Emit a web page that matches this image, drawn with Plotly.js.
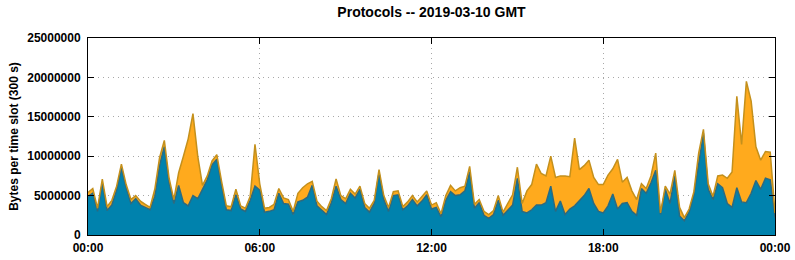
<!DOCTYPE html>
<html>
<head>
<meta charset="utf-8">
<script src="https://cdn.plot.ly/plotly-3.0.1.min.js"></script>
<style>html,body{margin:0;padding:0;background:#fff;}#chart{width:795px;height:260px;}</style>
</head>
<body>
<div id="chart"></div>
<script>
// Time slots: 10-minute steps from 00:00 to 24:00 (hours)
const slotMinutes = 10;
// Bytes per time slot, in millions
const blueSeriesM = [
4.9,5.3,3.0,6.6,3.1,3.8,5.7,8.5,6.0,4.0,
4.6,3.8,3.5,3.2,4.9,8.8,11.2,6.6,4.0,6.3,
4.1,3.7,5.0,4.6,5.8,7.0,8.9,9.6,6.3,3.2,
3.1,5.1,3.3,3.0,4.4,6.2,5.7,2.9,3.0,3.2,
5.3,4.0,3.9,2.6,4.2,4.4,4.8,6.3,3.7,3.2,
2.6,4.1,6.2,4.5,4.0,5.3,4.7,5.8,3.5,2.9,
4.0,7.9,4.5,3.0,5.0,5.1,3.2,3.7,4.5,3.7,
4.3,5.1,3.3,3.5,2.3,4.4,5.5,5.0,5.1,5.6,
8.0,3.4,4.1,2.5,2.1,2.6,4.4,2.5,3.1,3.8,
7.2,3.0,2.8,3.2,3.8,3.8,4.1,6.2,3.0,4.3,
2.6,3.3,3.7,4.3,5.0,5.9,4.0,3.0,2.8,3.7,
5.2,3.3,4.0,4.1,3.0,2.5,5.9,5.3,6.6,8.2,
2.6,5.8,4.0,7.5,2.4,1.8,2.9,5.1,9.0,12.9,
5.8,4.5,6.5,6.0,4.0,3.5,6.0,4.2,4.1,5.3,
6.9,5.8,7.2,7.0,2.2
];
const orangeSeriesM = [
0.5,0.6,0.4,0.5,0.5,0.6,0.5,0.5,0.4,0.5,
0.4,0.5,0.4,0.3,0.9,1.0,0.8,0.6,0.5,1.6,
5.9,8.5,10.4,5.4,0.5,0.5,0.5,0.6,0.5,0.5,
0.5,0.7,0.4,0.4,0.5,5.3,0.8,0.5,0.5,0.7,
0.6,0.7,0.6,0.4,1.1,1.6,1.7,0.5,0.6,0.4,
0.5,0.5,0.9,0.5,0.6,0.5,0.5,0.4,0.5,0.5,
0.4,0.4,0.5,0.5,0.5,0.5,0.4,0.5,0.5,0.5,
0.6,0.5,0.5,0.6,0.4,0.6,0.8,0.6,0.9,0.6,
0.7,0.5,0.4,0.5,0.5,0.5,0.6,0.4,0.9,1.3,
1.4,1.0,2.8,3.2,5.2,4.0,3.4,3.8,4.3,3.2,
4.9,4.1,8.6,4.0,3.8,3.6,3.3,3.4,3.6,3.9,
3.2,6.3,2.7,3.2,2.6,2.0,0.6,0.6,0.9,2.2,
0.2,0.4,1.2,0.7,1.1,0.4,0.4,0.4,1.4,0.5,
0.7,0.4,1.0,1.6,3.2,4.5,11.6,7.3,15.4,11.7,
4.3,3.7,3.4,3.5,0.6
];
const xTickVals = [0, 6, 12, 18, 24];
const xTickText = ['00:00', '06:00', '12:00', '18:00', '00:00'];
const yTickVals = [0, 5000000, 10000000, 15000000, 20000000, 25000000];

const hours = blueSeriesM.map((_, i) => i * slotMinutes / 60);
const blue = blueSeriesM.map(v => v * 1e6);
const orange = orangeSeriesM.map(v => v * 1e6);

const FONT = 'Liberation Sans, Arial, Helvetica, sans-serif';

const traces = [
  {x: hours, y: blue, type: 'scatter', mode: 'lines', stackgroup: 'one',
   line: {color: '#2b6a80', width: 1.5}, fillcolor: '#0082ad', hoverinfo: 'skip', showlegend: false},
  {x: hours, y: orange, type: 'scatter', mode: 'lines', stackgroup: 'one',
   line: {color: '#c4901c', width: 1.5}, fillcolor: '#ffaa1d', hoverinfo: 'skip', showlegend: false}
];

const axisCommon = {
  showline: true, linecolor: '#000', linewidth: 1, mirror: 'ticks',
  ticks: 'inside', ticklen: 6, tickwidth: 1, tickcolor: '#000',
  showgrid: true, gridcolor: '#a8a8a8', griddash: '1px,4px', gridwidth: 1,
  zeroline: false,
  tickfont: {family: FONT, size: 12, color: '#000', weight: 'bold'}
};

const layout = {
  width: 795, height: 260,
  margin: {l: 88, r: 20, t: 38, b: 25, pad: 0},
  paper_bgcolor: '#fff', plot_bgcolor: '#fff',
  title: {text: 'Protocols -- 2019-03-10 GMT', xref: 'paper', x: 0.5, xanchor: 'center',
          yref: 'container', y: 0.955, yanchor: 'middle',
          font: {family: FONT, size: 14, color: '#000', weight: 'bold'}},
  xaxis: Object.assign({}, axisCommon, {
    range: [0, 24], tickmode: 'array', tickvals: xTickVals, ticktext: xTickText,
    ticklabelstandoff: 2
  }),
  yaxis: Object.assign({}, axisCommon, {
    range: [0, 25000000], tickmode: 'array', tickvals: yTickVals,
    ticktext: yTickVals.map(v => String(v)),
    ticklabelstandoff: 4,
    title: {text: 'Bytes per time slot (300 s)', standoff: 6,
            font: {family: FONT, size: 12, color: '#000', weight: 'bold'}}
  })
};

Plotly.newPlot('chart', traces, layout, {staticPlot: true, displayModeBar: false});
</script>
</body>
</html>
